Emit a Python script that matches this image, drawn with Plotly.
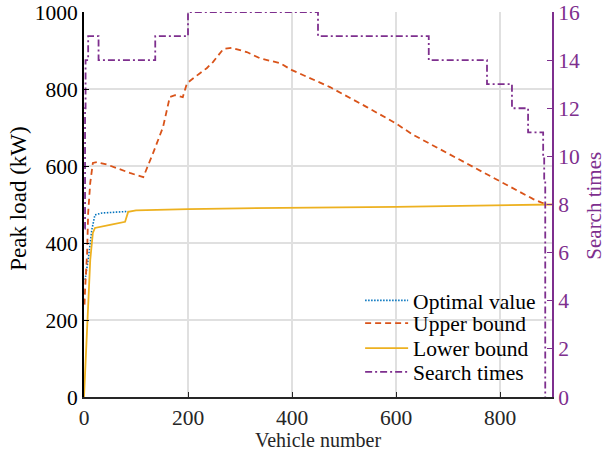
import plotly.graph_objects as go

# Optimal value (kW)
opt_x = [2, 8, 15, 21, 35, 60, 83, 85]
opt_y = [304, 356, 434, 473, 478, 480, 481, 482]

# Upper bound (kW)
ub_x = [1, 2, 6, 8, 12, 17, 25, 46, 88, 114, 133, 152, 165, 175, 190, 198, 223, 236,
        248, 268, 284, 313, 338, 377, 400, 473, 544, 598, 633, 700, 780, 864, 880, 890]
ub_y = [240, 278, 374, 478, 556, 608, 610, 603, 582, 571, 634, 701, 779, 784, 779, 815,
        841, 854, 870, 904, 907, 896, 880, 867, 849, 805, 753, 712, 681, 633, 575, 514, 505, 500]

# Lower bound (kW)
lb_x = [0, 6, 12, 17, 21, 50, 79, 85, 100, 200, 300, 600, 900]
lb_y = [0, 200, 356, 426, 439, 447, 455, 481, 485, 488, 490, 494, 500]

# Search times (step changes)
st_x = [1, 2, 3, 8, 28, 137, 200, 450, 663, 775, 823, 854, 883, 885, 887]
st_y = [7, 12, 14, 15, 14, 15, 16, 15, 14, 13, 12, 11, 10, 9, 0]

BLUE = "#0072BD"
ORANGE = "#D95319"
YELLOW = "#EDB120"
PURPLE = "#7E2F8E"
FONT = "Liberation Serif, Times New Roman, serif"
FS = 21.5

fig = go.Figure()
fig.add_trace(go.Scatter(x=opt_x, y=opt_y, mode="lines", name="Optimal value",
                         legend="legend",
                         line=dict(color=BLUE, width=1.6, dash="1.5px,1.5px")))
fig.add_trace(go.Scatter(x=ub_x, y=ub_y, mode="lines", name="Upper bound",
                         legend="legend2",
                         line=dict(color=ORANGE, width=1.8, dash="6px,4px")))
fig.add_trace(go.Scatter(x=lb_x, y=lb_y, mode="lines", name="Lower bound",
                         legend="legend3",
                         line=dict(color=YELLOW, width=1.8)))
fig.add_trace(go.Scatter(x=st_x, y=st_y, mode="lines", name="Search times", yaxis="y2",
                         legend="legend4",
                         line=dict(color=PURPLE, width=1.8, dash="7px,3px,2px,3px",
                                   shape="hv")))

# one legend row per entry, stacked with a tight line spacing
def legend_row(ypos):
    return dict(x=0.59, xanchor="left", y=ypos, yanchor="middle",
                bgcolor="rgba(0,0,0,0)", borderwidth=0,
                font=dict(family=FONT, size=21.5, color="#000"),
                itemwidth=43, tracegroupgap=0)

row_y = [0.251, 0.192, 0.127, 0.065]

# axis titles placed in paper coordinates
titles = [
    dict(text="Vehicle number", x=0.5, y=-0.112, textangle=0, size=20, color="#262626"),
    dict(text="Peak load (kW)", x=-0.139, y=0.515, textangle=-90, size=23, color="#000"),
    dict(text="Search times", x=1.089, y=0.496, textangle=-90, size=21, color=PURPLE),
]

fig.update_layout(
    width=606, height=455,
    margin=dict(l=84, r=54, t=12, b=58),
    paper_bgcolor="white", plot_bgcolor="white",
    font=dict(family=FONT, size=FS, color="#262626"),
    showlegend=True,
    legend=legend_row(row_y[0]),
    legend2=legend_row(row_y[1]),
    legend3=legend_row(row_y[2]),
    legend4=legend_row(row_y[3]),
    annotations=[dict(text=t["text"], x=t["x"], y=t["y"], xref="paper", yref="paper",
                      xanchor="center", yanchor="middle", textangle=t["textangle"],
                      showarrow=False,
                      font=dict(family=FONT, size=t["size"], color=t["color"]))
                 for t in titles],
    xaxis=dict(range=[0, 900], tickvals=[0, 200, 400, 600, 800],
               automargin=False, ticklabeloverflow="allow",
               showgrid=True, gridcolor="#e0e0e0", gridwidth=1.5,
               showline=True, linecolor="#262626", linewidth=1.5,
               ticks="inside", ticklen=5, tickcolor="#262626",
               zeroline=False),
    yaxis=dict(range=[0, 1000], tickvals=[0, 200, 400, 600, 800, 1000],
               automargin=False, ticklabeloverflow="allow",
               showgrid=True, gridcolor="#e0e0e0", gridwidth=1.5,
               showline=True, linecolor="#000", linewidth=2,
               ticks="inside", ticklen=5, tickcolor="#000",
               zeroline=False,
               tickfont=dict(color="#000")),
    yaxis2=dict(range=[0, 16], tickvals=list(range(0, 17, 2)), overlaying="y",
                automargin=False, ticklabeloverflow="allow",
                side="right", showgrid=False, zeroline=False,
                showline=True, linecolor=PURPLE, linewidth=2,
                ticks="inside", ticklen=5, tickcolor=PURPLE,
                tickfont=dict(color=PURPLE)),
)

fig.write_html("out.html")
